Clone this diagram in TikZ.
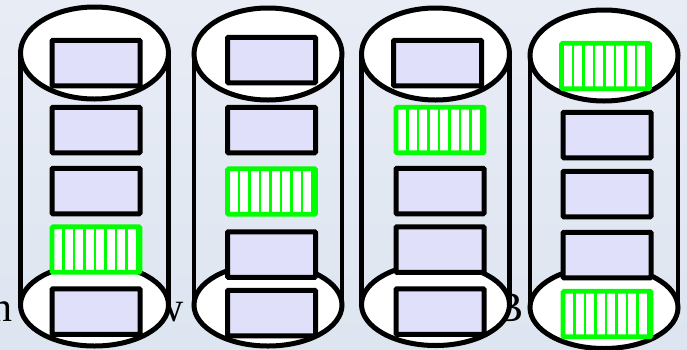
\documentclass[tikz,border=0pt]{standalone}
\usepackage{fontspec}
\setmainfont{Liberation Serif}
\usetikzlibrary{shapes.geometric,calc}
\pgfdeclarelayer{bglayer}
\pgfdeclarelayer{sidelayer}
\pgfsetlayers{bglayer,sidelayer,main}
\definecolor{bgtop}{RGB}{221,229,240}
\definecolor{bgbot}{RGB}{232,236,245}
\definecolor{chk}{RGB}{224,224,251}
\definecolor{grn}{RGB}{0,255,0}
\tikzset{
  cylend/.style={ellipse,draw=black,fill=white,line width=5pt,inner sep=0pt,outer sep=0pt,minimum width=148pt},
  cylside/.style={line width=4.6pt,draw=black},
  blkbox/.style={rectangle,draw=black,fill=chk,line width=5pt,rounded corners=1pt,inner sep=0pt,outer sep=0pt,minimum width=88pt,minimum height=45.5pt},
  grnbox/.style={rectangle,draw=grn,fill=white,line width=4.6pt,rounded corners=1pt,inner sep=0pt,outer sep=0pt,minimum width=88pt,minimum height=45.5pt,
    path picture={\foreach \o in {11.5,22,32.5,43,53.5,64,74.5,85}{
      \draw[grn,line width=2.8pt] ($(path picture bounding box.south west)+(\o,0)$) -- ($(path picture bounding box.north west)+(\o,0)$);}}},
  lbl/.style={anchor=base east,inner sep=0pt,font=\fontsize{42}{50}\selectfont}
}
\begin{document}
\begin{tikzpicture}[x=1pt,y=-1pt]
\useasboundingbox (0,0) rectangle (687,349);
\begin{pgfonlayer}{bglayer}
\shade[top color=bgbot,bottom color=bgtop] (0,0) rectangle (687,349);
% partly hidden text
\node[lbl] (t1) at (12.5,321) {n};
\node[lbl] (t2) at (184,321) {w};
\node[lbl] (t3) at (524,321) {B};
\end{pgfonlayer}
% cylinder ends
\node[cylend,minimum height=92pt] (c1t) at (94.5,53) {};
\node[cylend,minimum height=82pt] (c1b) at (94.5,305) {};
\node[cylend,minimum height=92pt] (c2t) at (268,54) {};
\node[cylend,minimum height=82pt] (c2b) at (268,305) {};
\node[cylend,minimum height=92pt] (c3t) at (435.5,54) {};
\node[cylend,minimum height=82pt] (c3b) at (435.5,304.5) {};
\node[cylend,minimum height=91pt] (c4t) at (604,55.5) {};
\node[cylend,minimum height=82pt] (c4b) at (604,307.5) {};
% cylinder sides
\begin{pgfonlayer}{sidelayer}
\foreach \c in {c1,c2,c3,c4}{
  \draw[cylside] (\c t.west) -- (\c b.west) (\c t.east) -- (\c b.east);
}
\end{pgfonlayer}
% blocks cylinder 1
\node[blkbox] (a1) at (96,63) {};
\node[blkbox] (a2) at (96,130) {};
\node[blkbox] (a3) at (96,191) {};
\node[grnbox] (a4) at (96,249.5) {};
\node[blkbox] (a5) at (96,311.5) {};
% blocks cylinder 2
\node[blkbox] (b1) at (271.5,60) {};
\node[blkbox] (b2) at (271.5,130) {};
\node[grnbox] (b3) at (271.5,191.5) {};
\node[blkbox] (b4) at (271.5,254.5) {};
\node[blkbox] (b5) at (271.5,313) {};
% blocks cylinder 3
\node[blkbox] (d1) at (437.5,63) {};
\node[grnbox] (d2) at (440,130) {};
\node[blkbox] (d3) at (440,191) {};
\node[blkbox] (d4) at (440,249.5) {};
\node[blkbox] (d5) at (440,311.5) {};
% blocks cylinder 4
\node[grnbox] (e1) at (605.5,66) {};
\node[blkbox] (e2) at (607,135) {};
\node[blkbox] (e3) at (607,194) {};
\node[blkbox] (e4) at (607,255) {};
\node[grnbox] (e5) at (607,314) {};
\end{tikzpicture}
\end{document}
